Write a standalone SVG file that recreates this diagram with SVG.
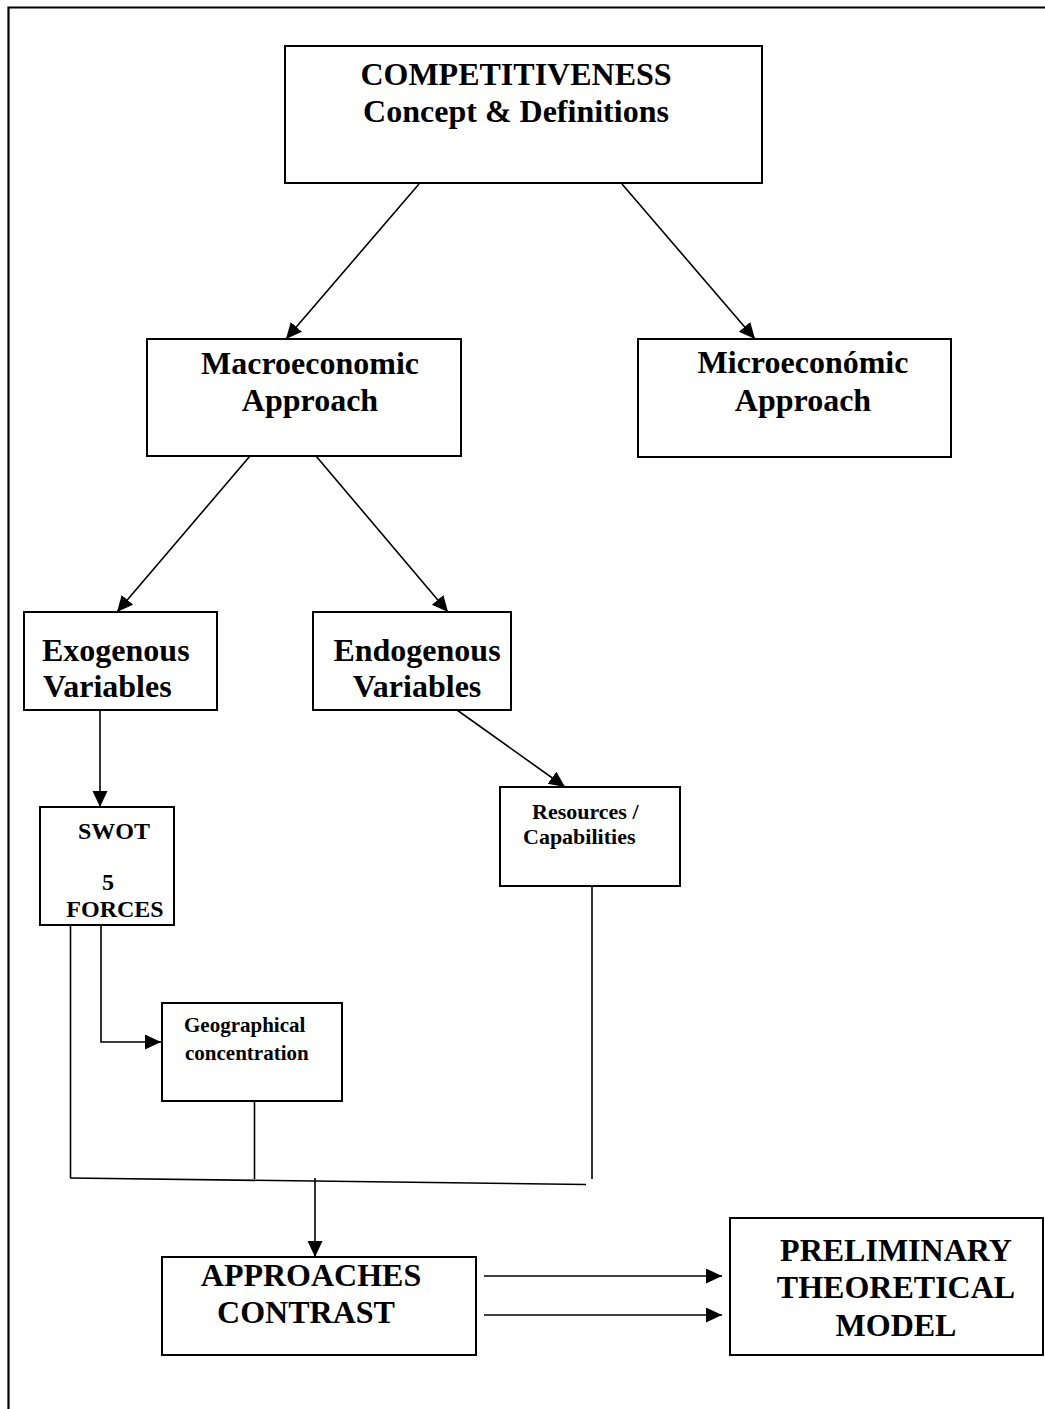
<svg xmlns="http://www.w3.org/2000/svg" width="1045" height="1409" viewBox="0 0 1045 1409">
<style>
.box{fill:#fff;stroke:#000;stroke-width:2}
.ln{fill:none;stroke:#000;stroke-width:1.6}
.t{font-family:"Liberation Serif","Times New Roman",serif;font-weight:bold;fill:#000}
.big{font-size:32px;text-anchor:middle}
.l{text-anchor:start}
</style>
<defs>
<marker id="ah" markerUnits="userSpaceOnUse" markerWidth="17" markerHeight="16" refX="16" refY="7.5" orient="auto">
<path d="M0,0 L16,7.5 L0,15 z" fill="#000"/>
</marker>
</defs>
<rect width="1045" height="1409" fill="#fff"/>
<path d="M8.5,1409 V7.5 H1045" fill="none" stroke="#000" stroke-width="2.2"/>

<g id="connectors">
<line class="ln" x1="419" y1="184" x2="286" y2="339" marker-end="url(#ah)"/>
<line class="ln" x1="622" y1="184" x2="755" y2="339" marker-end="url(#ah)"/>
<line class="ln" x1="250" y1="456" x2="117" y2="612" marker-end="url(#ah)"/>
<line class="ln" x1="316" y1="456" x2="448" y2="612" marker-end="url(#ah)"/>
<line class="ln" x1="100" y1="710" x2="100" y2="807" marker-end="url(#ah)"/>
<line class="ln" x1="457" y1="710" x2="565" y2="787" marker-end="url(#ah)"/>
<path class="ln" d="M101,925 V1042 H161" marker-end="url(#ah)"/>
<line class="ln" x1="70.5" y1="925" x2="70.5" y2="1178"/>
<line class="ln" x1="254.5" y1="1101" x2="254.5" y2="1179"/>
<line class="ln" x1="592" y1="886" x2="592" y2="1179"/>
<line class="ln" x1="70" y1="1178" x2="586" y2="1184.5"/>
<line class="ln" x1="315" y1="1178" x2="315" y2="1257" marker-end="url(#ah)"/>
<line class="ln" x1="484" y1="1276" x2="722" y2="1276" marker-end="url(#ah)"/>
<line class="ln" x1="484" y1="1315" x2="722" y2="1315" marker-end="url(#ah)"/>
</g>

<g id="competitiveness">
<rect class="box" x="285" y="46" width="477" height="137"/>
<text class="t big" x="516" y="85">COMPETITIVENESS</text>
<text class="t big" x="516" y="122">Concept &amp; Definitions</text>
</g>
<g id="macro">
<rect class="box" x="147" y="339" width="314" height="117"/>
<text class="t big" x="310" y="374">Macroeconomic</text>
<text class="t big" x="310" y="411">Approach</text>
</g>
<g id="micro">
<rect class="box" x="638" y="339" width="313" height="118"/>
<text class="t big" x="803" y="373">Microeconómic</text>
<text class="t big" x="803" y="411">Approach</text>
</g>
<g id="exogenous">
<rect class="box" x="24" y="612" width="193" height="98"/>
<text class="t l" x="42" y="661" font-size="32">Exogenous</text>
<text class="t l" x="43" y="697" font-size="32">Variables</text>
</g>
<g id="endogenous">
<rect class="box" x="313" y="612" width="198" height="98"/>
<text class="t big" x="417" y="661">Endogenous</text>
<text class="t big" x="417" y="697">Variables</text>
</g>
<g id="swot">
<rect class="box" x="40" y="807" width="134" height="118"/>
<text class="t" x="114" y="839" font-size="24" text-anchor="middle">SWOT</text>
<text class="t" x="108" y="890" font-size="24" text-anchor="middle">5</text>
<text class="t" x="115" y="917" font-size="24" text-anchor="middle">FORCES</text>
</g>
<g id="geographical">
<rect class="box" x="162" y="1003" width="180" height="98"/>
<text class="t l" x="184" y="1032" font-size="21">Geographical</text>
<text class="t l" x="185" y="1060" font-size="21">concentration</text>
</g>
<g id="resources">
<rect class="box" x="500" y="787" width="180" height="99"/>
<text class="t l" x="532" y="819" font-size="22">Resources /</text>
<text class="t l" x="523" y="844" font-size="22">Capabilities</text>
</g>
<g id="approaches">
<rect class="box" x="162" y="1257" width="314" height="98"/>
<text class="t big" x="311" y="1286">APPROACHES</text>
<text class="t big" x="306" y="1323">CONTRAST</text>
</g>
<g id="preliminary">
<rect class="box" x="730" y="1218" width="313" height="137"/>
<text class="t big" x="896" y="1261">PRELIMINARY</text>
<text class="t big" x="896" y="1298">THEORETICAL</text>
<text class="t big" x="896" y="1336">MODEL</text>
</g>
</svg>
